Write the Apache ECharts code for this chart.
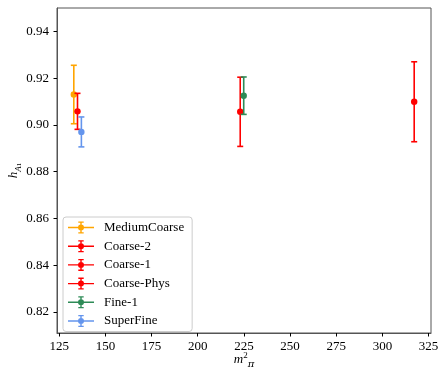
<!DOCTYPE html>
<html>
<head>
<meta charset="utf-8">
<script src="https://cdn.jsdelivr.net/npm/echarts@6/dist/echarts.min.js"></script>
<style>
  html, body { margin: 0; padding: 0; background: #fff; }
  #chart { width: 439px; height: 371px; }
</style>
</head>
<body>
<div id="chart"></div>
<script>
// Ensembles, their squared pion mass, axial coupling and its uncertainty
const ensembles = ['MediumCoarse', 'Coarse-2', 'Coarse-1', 'Coarse-Phys', 'Fine-1', 'SuperFine'];
const mpiSquared = [132.9, 223.0, 317.2, 134.9, 224.9, 137.0];
const hA1 = [0.9130, 0.9056, 0.9099, 0.9058, 0.9125, 0.8970];
const hA1Err = [0.0125, 0.0148, 0.0171, 0.0077, 0.0080, 0.0064];
const colors = ['#FFA500', '#FF0000', '#FF0000', '#FF0000', '#2E8B57', '#6495ED'];

const xTicks = [125, 150, 175, 200, 225, 250, 275, 300, 325];
const yTicks = [0.82, 0.84, 0.86, 0.88, 0.90, 0.92, 0.94];

const FONT = 'Liberation Serif';

// legend handle: horizontal line, vertical error bar with caps and a dot
const errIcon = 'path://M0 5.3H26V6.7H0Z M12.3 0H13.7V12H12.3Z M10.3 0H15.7V1.3H10.3Z M10.3 10.7H15.7V12H10.3Z M10 6A3 3 0 1 1 16 6A3 3 0 1 1 10 6Z';

function renderErrorPoint(params, api) {
  const x = api.value(0), y = api.value(1), e = api.value(2);
  const c = api.coord([x, y]);
  const top = api.coord([x, y + e]);
  const bot = api.coord([x, y - e]);
  const color = api.visual('color');
  const ls = { stroke: color, lineWidth: 1.6 };
  return {
    type: 'group',
    children: [
      { type: 'line', shape: { x1: c[0], y1: top[1], x2: c[0], y2: bot[1] }, style: ls },
      { type: 'line', shape: { x1: c[0] - 3, y1: top[1], x2: c[0] + 3, y2: top[1] }, style: ls },
      { type: 'line', shape: { x1: c[0] - 3, y1: bot[1], x2: c[0] + 3, y2: bot[1] }, style: ls },
      { type: 'circle', shape: { cx: c[0], cy: c[1], r: 3.2 }, style: { fill: color } }
    ]
  };
}

const series = ensembles.map((name, i) => ({
  name: name,
  type: 'custom',
  renderItem: renderErrorPoint,
  itemStyle: { color: colors[i] },
  encode: { x: 0, y: 1 },
  data: [[mpiSquared[i], hA1[i], hA1Err[i]]],
  z: 2 + i
}));

const axisCol = '#555';

const option = {
  animation: false,
  backgroundColor: '#fff',
  grid: {
    left: 57, right: 8, top: 8, bottom: 38,
    containLabel: false,
    outerBoundsMode: 'none',
    show: true, borderColor: axisCol, borderWidth: 1, backgroundColor: 'transparent'
  },
  xAxis: {
    type: 'value',
    min: 123.8, max: 326.3,
    name: '{m|m}{sup|2}{sub|π}',
    nameLocation: 'middle',
    nameGap: 18,
    nameMoveOverlap: false,
    nameTextStyle: {
      rich: {
        m: { fontFamily: FONT, fontStyle: 'italic', fontSize: 13, lineHeight: 18, color: '#000' },
        sub: { fontFamily: 'DejaVu Serif', fontStyle: 'italic', fontSize: 10, lineHeight: 9, verticalAlign: 'bottom', color: '#000' },
        sup: { fontFamily: FONT, fontSize: 9, lineHeight: 9, verticalAlign: 'top', color: '#000' }
      }
    },
    axisLine: { show: true, lineStyle: { color: axisCol, width: 1 } },
    axisTick: { show: true, inside: false, length: 3.5, customValues: xTicks, lineStyle: { color: '#000' } },
    axisLabel: { customValues: xTicks, margin: 7, fontFamily: FONT, fontSize: 13, color: '#000',
      formatter: v => String(Math.round(v)) },
    splitLine: { show: false }
  },
  yAxis: {
    type: 'value',
    min: 0.811, max: 0.950,
    name: '{h|h}{sub|A}{subsub|1}',
    nameLocation: 'middle',
    nameGap: 34,
    nameMoveOverlap: false,
    nameRotate: 90,
    nameTextStyle: {
      rich: {
        h: { fontFamily: FONT, fontStyle: 'italic', fontSize: 13, lineHeight: 18, color: '#000' },
        sub: { fontFamily: FONT, fontStyle: 'italic', fontSize: 9, lineHeight: 11, verticalAlign: 'bottom', color: '#000' },
        subsub: { fontFamily: FONT, fontSize: 7, lineHeight: 6, verticalAlign: 'bottom', color: '#000' }
      }
    },
    axisLine: { show: true, lineStyle: { color: axisCol, width: 1 } },
    axisTick: { show: true, inside: false, length: 3.5, customValues: yTicks, lineStyle: { color: '#000' } },
    axisLabel: { customValues: yTicks, margin: 8, fontFamily: FONT, fontSize: 13, color: '#000',
      formatter: v => v.toFixed(2) },
    splitLine: { show: false }
  },
  legend: {
    orient: 'vertical',
    left: 63, top: 217,
    itemWidth: 26, itemHeight: 12, itemGap: 5.7,
    padding: [4, 8, 4, 5],
    backgroundColor: 'rgba(255,255,255,0.8)',
    borderColor: '#cccccc', borderWidth: 1, borderRadius: 3,
    itemStyle: { borderWidth: 0 },
    textStyle: { fontFamily: FONT, fontSize: 13, color: '#000', padding: [0, 0, 0, 5] },
    data: ensembles.map(n => ({ name: n, icon: errIcon }))
  },
  series: series
};

const chart = echarts.init(document.getElementById('chart'), null, { renderer: 'canvas' });
chart.setOption(option);
</script>
</body>
</html>
